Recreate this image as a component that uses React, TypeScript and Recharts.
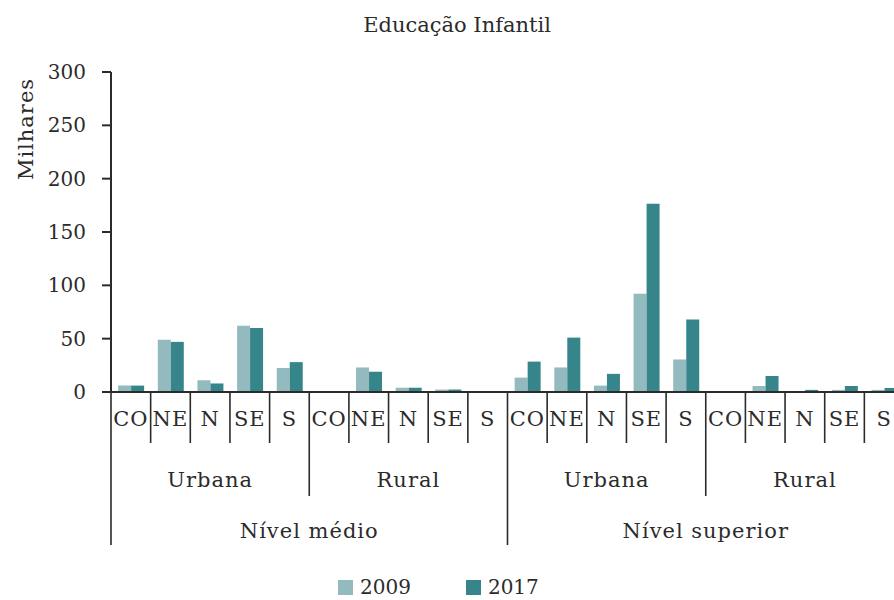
import React from 'react';
import { BarChart, Bar, XAxis, YAxis, Legend } from 'recharts';

const regions = ['CO', 'NE', 'N', 'SE', 'S'];
const locations = ['Urbana', 'Rural'];
const levels = ['Nível médio', 'Nível superior'];
const yTicks = [0, 50, 100, 150, 200, 250, 300];
const values2009 = [6, 49, 11, 62, 22.5, 0.3, 23, 4, 2.3, 0.3, 13.5, 23, 6, 92, 30.5, 0.3, 5.6, 0.5, 2, 2];
const values2017 = [6, 47, 8, 60, 28, 0.3, 19, 4, 2.3, 0.3, 28.5, 51, 17, 176.5, 68, 0.5, 15, 2, 5.6, 3.8];

const data: any[] = [];
levels.forEach((lv, li) => {
  locations.forEach((loc, oi) => {
    regions.forEach((rg, ri) => {
      const i = li * 10 + oi * 5 + ri;
      data.push({ key: `${lv}-${loc}-${rg}`, region: rg, location: loc, level: lv, y2009: values2009[i], y2017: values2017[i] });
    });
  });
});

const FONT = 'DejaVu Serif';
const TXT = '#2b2b2b';
const LINE = '#2b2b2b';
const C2009 = '#93BABE';
const C2017 = '#36858B';

const CHART_W = 912;
const PLOT_LEFT = 111;
const PLOT_RIGHT = 904;
const BW = (PLOT_RIGHT - PLOT_LEFT) / data.length;

const CategoryTick = (props: any) => {
  const { x, y, payload } = props;
  const i = payload.index;
  const d = data[i];
  const left = x - BW / 2;
  let len = 51;
  if (i % 10 === 0) len = 153;
  else if (i % 5 === 0) len = 104;
  return (
    <g>
      <line x1={left} y1={y} x2={left} y2={y + len} stroke={LINE} strokeWidth={1.6} />
      {i === data.length - 1 && (
        <line x1={x + BW / 2} y1={y} x2={x + BW / 2} y2={y + 153} stroke={LINE} strokeWidth={1.6} />
      )}
      <text x={x} y={y + 34} textAnchor="middle" fontFamily={FONT} fontSize={21} letterSpacing={1} fill={TXT}>{d.region}</text>
      {i % 5 === 2 && (
        <text x={x} y={y + 95} textAnchor="middle" fontFamily={FONT} fontSize={21} letterSpacing={1} fill={TXT}>{d.location}</text>
      )}
      {i % 10 === 4 && (
        <text x={x + BW / 2} y={y + 146} textAnchor="middle" fontFamily={FONT} fontSize={21} letterSpacing={1} fill={TXT}>{d.level}</text>
      )}
    </g>
  );
};

const LegendContent = () => (
  <div style={{ display: 'flex', alignItems: 'center', fontFamily: FONT, fontSize: 20, lineHeight: '20px', color: TXT }}>
    <span style={{ display: 'inline-block', width: 15, height: 15, background: C2009, marginRight: 7 }} />
    <span style={{ marginRight: 55 }}>2009</span>
    <span style={{ display: 'inline-block', width: 15, height: 15, background: C2017, marginRight: 7 }} />
    <span>2017</span>
  </div>
);

export default function App() {
  return (
    <div style={{ width: 894, height: 600, overflow: 'hidden', position: 'relative', background: '#fff' }}>
      <style>{`body{margin:0}`}</style>
      <div style={{ position: 'absolute', top: 15, left: 457, transform: 'translateX(-50%)', fontFamily: FONT, fontSize: 21, lineHeight: '21px', color: TXT, whiteSpace: 'nowrap' }}>
        Educação Infantil
      </div>
      <BarChart
        width={CHART_W}
        height={600}
        data={data}
        margin={{ top: 72, right: CHART_W - PLOT_RIGHT, left: 0, bottom: 0 }}
        barCategoryGap="18%"
        barGap={0}
      >
        <XAxis
          dataKey="key"
          interval={0}
          height={208}
          tickLine={false}
          tickSize={0}
          tickMargin={0}
          axisLine={{ stroke: LINE, strokeWidth: 2 }}
          tick={<CategoryTick />}
        />
        <YAxis
          width={PLOT_LEFT}
          domain={[0, 300]}
          ticks={yTicks}
          interval={0}
          tickSize={9}
          tickMargin={16}
          axisLine={{ stroke: LINE, strokeWidth: 2 }}
          tickLine={{ stroke: LINE, strokeWidth: 2 }}
          tick={{ fontFamily: FONT, fontSize: 20, fill: TXT }}
          label={{
            content: () => (
              <text x={33} y={129} transform="rotate(-90 33 129)" textAnchor="middle" fontFamily={FONT} fontSize={21} letterSpacing={1} fill={TXT}>Milhares</text>
            ),
          }}
        />
        <Legend
          layout="horizontal"
          verticalAlign="middle"
          align="center"
          content={<LegendContent />}
          wrapperStyle={{ position: 'absolute', top: 577, left: 338, width: 300, height: 20 }}
        />
        <Bar dataKey="y2009" name="2009" fill={C2009} isAnimationActive={false} />
        <Bar dataKey="y2017" name="2017" fill={C2017} isAnimationActive={false} />
      </BarChart>
    </div>
  );
}
